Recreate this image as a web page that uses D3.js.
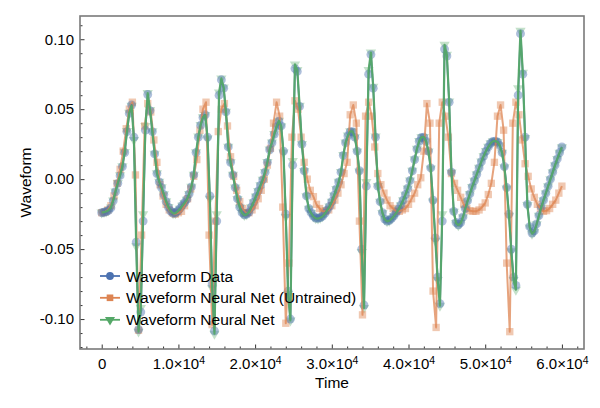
<!DOCTYPE html>
<html><head><meta charset="utf-8">
<script src="https://cdn.jsdelivr.net/npm/d3@7/dist/d3.min.js"></script>
<style>
body{margin:0;background:#fff}
text{font-family:"Liberation Sans",Arial,Helvetica,sans-serif;fill:#000}
</style>
</head><body>
<svg id="chart" width="600" height="408"></svg>
<script>
// ---------------- data ----------------
const seriesNames = ["Waveform Data", "Waveform Neural Net (Untrained)", "Waveform Neural Net"];
const seriesColors = ["#4C72B0", "#DD8452", "#55A868"];
const seriesMarkers = ["circle", "square", "triangle-down"];

// sample times of the data / trained network
const dataTimes = [0,300,600,900,1200,1500,1800,2100,2400,2700,
3000,3300,3600,3900,4200,4500,4800,5100,5400,5700,
6000,6300,6600,6900,7200,7500,7800,8100,8400,8700,
9000,9300,9600,9900,10200,10500,10800,11100,11400,11700,
12000,12300,12600,12900,13200,13500,13800,14100,14400,14700,
15000,15300,15600,15900,16200,16500,16800,17100,17400,17700,
18000,18300,18600,18900,19200,19500,19800,20100,20400,20700,
21000,21300,21600,21900,22200,22500,22800,23100,23400,23700,
24000,24300,24600,24900,25200,25500,25800,26100,26400,26700,
27000,27300,27600,27900,28200,28500,28800,29100,29400,29700,
30000,30300,30600,30900,31200,31500,31800,32100,32400,32700,
33000,33300,33600,33900,34200,34500,34800,35100,35400,35700,
36000,36300,36600,36900,37200,37500,37800,38100,38400,38700,
39000,39300,39600,39900,40200,40500,40800,41100,41400,41700,
42000,42300,42600,42900,43200,43500,43800,44100,44400,44700,
45000,45300,45600,45900,46200,46500,46800,47100,47400,47700,
48000,48300,48600,48900,49200,49500,49800,50100,50400,50700,
51000,51300,51600,51900,52200,52500,52800,53100,53400,53700,
54000,54300,54600,54900,55200,55500,55800,56100,56400,56700,
57000,57300,57600,57900,58200,58500,58800,59100,59400,59700,
60000];

// sample times of the untrained network
const untrainedTimes = [0,400,800,1200,1600,2000,2400,2800,3200,3600,4000,4400,4800,5200,5600,6000,6400,6800,7200,7600,
8000,8400,8800,9200,9600,10000,10400,10800,11200,11600,12000,12400,12800,13200,13600,14000,14400,14800,15200,15600,
16000,16400,16800,17200,17600,18000,18400,18800,19200,19600,20000,20400,20800,21200,21600,22000,22400,22800,23200,23600,
24000,24400,24800,25200,25600,26000,26400,26800,27200,27600,28000,28400,28800,29200,29600,30000,30400,30800,31200,31600,
32000,32400,32800,33200,33600,34000,34400,34800,35200,35600,36000,36400,36800,37200,37600,38000,38400,38800,39200,39600,
40000,40400,40800,41200,41600,42000,42400,42800,43200,43600,44000,44400,44800,45200,45600,46000,46400,46800,47200,47600,
48000,48400,48800,49200,49600,50000,50400,50800,51200,51600,52000,52400,52800,53200,53600,54000,54400,54800,55200,55600,
56000,56400,56800,57200,57600,58000,58400,58800,59200,59600,60000];

const waveformData = [-0.0240,-0.0237,-0.0232,-0.0224,-0.0205,-0.0155,-0.0090,-0.0030,0.0025,0.0090,
0.0190,0.0340,0.0470,0.0530,0.0300,-0.0450,-0.1075,-0.0950,-0.0300,0.0350,
0.0605,0.0490,0.0340,0.0180,0.0040,-0.0020,-0.0060,-0.0110,-0.0160,-0.0200,
-0.0228,-0.0243,-0.0242,-0.0228,-0.0210,-0.0188,-0.0168,-0.0145,-0.0105,-0.0055,
0.0030,0.0190,0.0300,0.0385,0.0440,0.0460,0.0300,-0.0120,-0.0750,-0.1085,
-0.0300,0.0600,0.0710,0.0650,0.0480,0.0230,0.0120,0.0030,-0.0060,-0.0140,
-0.0200,-0.0240,-0.0255,-0.0250,-0.0235,-0.0200,-0.0165,-0.0125,-0.0085,-0.0045,
-0.0005,0.0050,0.0120,0.0210,0.0260,0.0320,0.0375,0.0415,0.0380,0.0200,
-0.0250,-0.0800,-0.1000,0.0100,0.0790,0.0770,0.0520,0.0250,0.0060,-0.0120,
-0.0210,-0.0240,-0.0265,-0.0278,-0.0280,-0.0275,-0.0265,-0.0245,-0.0220,-0.0195,
-0.0160,-0.0115,-0.0070,-0.0020,0.0050,0.0170,0.0260,0.0310,0.0340,0.0340,
0.0300,0.0200,0.0060,-0.0500,-0.0900,-0.0050,0.0750,0.0890,0.0650,0.0300,
-0.0050,-0.0160,-0.0240,-0.0285,-0.0300,-0.0295,-0.0280,-0.0262,-0.0240,-0.0215,
-0.0185,-0.0150,-0.0110,-0.0065,-0.0010,0.0060,0.0140,0.0215,0.0270,0.0298,
0.0300,0.0270,0.0200,0.0080,-0.0150,-0.0420,-0.0700,-0.0890,-0.0300,0.0930,
0.0880,0.0550,0.0050,-0.0230,-0.0310,-0.0326,-0.0310,-0.0270,-0.0210,-0.0155,
-0.0105,-0.0055,-0.0010,0.0035,0.0080,0.0125,0.0165,0.0200,0.0230,0.0255,
0.0270,0.0272,0.0265,0.0240,0.0190,0.0090,-0.0060,-0.0250,-0.0500,-0.0700,
-0.0760,0.0600,0.1040,0.0750,0.0300,-0.0180,-0.0340,-0.0385,-0.0370,-0.0320,
-0.0260,-0.0200,-0.0150,-0.0100,-0.0050,0.0000,0.0050,0.0100,0.0145,0.0190,
0.0230];

const trainedData = [-0.0238,-0.0236,-0.0231,-0.0222,-0.0203,-0.0152,-0.0088,-0.0028,0.0028,0.0093,
0.0195,0.0345,0.0475,0.0525,0.0280,-0.0480,-0.1090,-0.0920,-0.0250,0.0380,
0.0615,0.0495,0.0342,0.0182,0.0042,-0.0018,-0.0058,-0.0108,-0.0158,-0.0199,
-0.0228,-0.0244,-0.0244,-0.0230,-0.0212,-0.0190,-0.0170,-0.0147,-0.0106,-0.0054,
0.0032,0.0192,0.0305,0.0388,0.0442,0.0458,0.0290,-0.0140,-0.0780,-0.1105,
-0.0250,0.0620,0.0720,0.0655,0.0482,0.0232,0.0121,0.0031,-0.0059,-0.0141,
-0.0202,-0.0242,-0.0257,-0.0252,-0.0236,-0.0201,-0.0165,-0.0124,-0.0084,-0.0044,
-0.0004,0.0052,0.0122,0.0212,0.0262,0.0322,0.0377,0.0418,0.0378,0.0190,
-0.0270,-0.0820,-0.1010,0.0130,0.0820,0.0780,0.0525,0.0252,0.0058,-0.0122,
-0.0212,-0.0242,-0.0267,-0.0280,-0.0282,-0.0276,-0.0266,-0.0246,-0.0221,-0.0196,
-0.0161,-0.0116,-0.0070,-0.0019,0.0052,0.0172,0.0262,0.0312,0.0342,0.0341,
0.0300,0.0198,0.0055,-0.0520,-0.0920,-0.0020,0.0780,0.0905,0.0660,0.0305,
-0.0048,-0.0162,-0.0242,-0.0287,-0.0302,-0.0297,-0.0282,-0.0263,-0.0241,-0.0216,
-0.0186,-0.0151,-0.0111,-0.0066,-0.0010,0.0061,0.0142,0.0217,0.0272,0.0300,
0.0301,0.0270,0.0198,0.0076,-0.0160,-0.0440,-0.0720,-0.0905,-0.0250,0.0960,
0.0890,0.0555,0.0048,-0.0233,-0.0313,-0.0330,-0.0314,-0.0272,-0.0212,-0.0157,
-0.0106,-0.0056,-0.0011,0.0035,0.0081,0.0126,0.0166,0.0201,0.0231,0.0256,
0.0271,0.0273,0.0266,0.0240,0.0188,0.0086,-0.0066,-0.0262,-0.0515,-0.0720,
-0.0790,0.0650,0.1060,0.0760,0.0295,-0.0185,-0.0345,-0.0390,-0.0375,-0.0323,
-0.0262,-0.0202,-0.0151,-0.0101,-0.0051,-0.0001,0.0049,0.0099,0.0145,0.0189,
0.0228];

const untrainedData = [-0.0240,-0.0235,-0.0220,-0.0190,-0.0120,-0.0030,0.0070,0.0200,0.0360,0.0500,
0.0550,0.0030,-0.1080,-0.0400,0.0380,0.0540,0.0480,0.0280,0.0120,-0.0040,
-0.0120,-0.0180,-0.0220,-0.0240,-0.0250,-0.0240,-0.0230,-0.0190,-0.0140,-0.0070,
0.0020,0.0140,0.0350,0.0500,0.0550,-0.0400,-0.1040,-0.0300,0.0340,0.0500,
0.0540,0.0380,0.0160,0.0020,-0.0080,-0.0160,-0.0210,-0.0240,-0.0240,-0.0220,
-0.0190,-0.0140,-0.0080,0.0000,0.0100,0.0220,0.0400,0.0550,0.0450,-0.0200,
-0.1030,-0.0600,0.0300,0.0560,0.0500,0.0300,0.0120,0.0000,-0.0080,-0.0125,
-0.0180,-0.0210,-0.0230,-0.0230,-0.0220,-0.0190,-0.0150,-0.0100,-0.0040,0.0040,
0.0120,0.0460,0.0530,0.0400,-0.0300,-0.0970,0.0450,0.0550,0.0450,0.0230,
0.0040,-0.0040,-0.0100,-0.0150,-0.0190,-0.0210,-0.0230,-0.0230,-0.0220,-0.0210,
-0.0180,-0.0140,-0.0100,-0.0040,0.0010,0.0200,0.0540,0.0400,-0.0800,-0.1060,
0.0400,0.0550,0.0450,0.0300,0.0040,-0.0030,-0.0080,-0.0130,-0.0180,-0.0210,
-0.0225,-0.0230,-0.0230,-0.0220,-0.0200,-0.0170,-0.0110,-0.0030,0.0120,0.0450,
0.0530,0.0350,-0.0600,-0.1090,0.0400,0.0550,0.0460,0.0280,0.0110,0.0020,
-0.0070,-0.0130,-0.0180,-0.0210,-0.0230,-0.0225,-0.0210,-0.0180,-0.0150,-0.0100,
-0.0050];

const xMajorTicks = [0, 10000, 20000, 30000, 40000, 50000, 60000];
const xTickMantissas = ["0", "1.0", "2.0", "3.0", "4.0", "5.0", "6.0"];
const xMinorTicks = [-2000,2000,4000,6000,8000,12000,14000,16000,18000,22000,24000,26000,28000,32000,34000,36000,38000,42000,44000,46000,48000,52000,54000,56000,58000,62000];
const yMajorTicks = [-0.10, -0.05, 0.00, 0.05, 0.10];
const yTickLabels = ["-0.10", "-0.05", "0.00", "0.05", "0.10"];
const yMinorTicks = [-0.12,-0.11,-0.09,-0.08,-0.07,-0.06,-0.04,-0.03,-0.02,-0.01,0.01,0.02,0.03,0.04,0.06,0.07,0.08,0.09,0.11];

// ---------------- layout ----------------
const L = 80, R = 584, T = 16, B = 349;
const svg = d3.select("#chart");
const x = d3.scaleLinear().domain([-2830, 62880]).range([L, R]);
const y = d3.scaleLinear().domain([-0.1214, 0.1166]).range([B, T]);
const axisColor = "#7a7a7a";
const tickFont = 15, labelFont = 15.5;

// axes (ticks inside)
const gx = svg.append("g").attr("transform", `translate(0,${B})`)
  .call(d3.axisBottom(x).tickValues(xMajorTicks).tickSize(-4.5).tickPadding(9)
    .tickFormat(() => ""));
gx.selectAll(".tick text").each(function(d, i) {
  const t = d3.select(this).attr("font-size", tickFont).attr("font-family", null);
  if (d === 0) { t.text(xTickMantissas[i]); return; }
  t.text(xTickMantissas[i] + "×10");
  t.append("tspan").attr("dy", "-0.42em").attr("font-size", tickFont * 0.7).text("4");
});
svg.append("g").attr("transform", `translate(0,${B})`)
  .call(d3.axisBottom(x).tickValues(xMinorTicks).tickSize(-2.5).tickFormat(() => ""));

const gy = svg.append("g").attr("transform", `translate(${L},0)`)
  .call(d3.axisLeft(y).tickValues(yMajorTicks).tickSize(-4.5).tickPadding(6)
    .tickFormat((d, i) => yTickLabels[i]));
gy.selectAll(".tick text").attr("font-size", tickFont).attr("font-family", null);
svg.append("g").attr("transform", `translate(${L},0)`)
  .call(d3.axisLeft(y).tickValues(yMinorTicks).tickSize(-2.5).tickFormat(() => ""));

svg.selectAll(".domain").remove();
svg.selectAll(".tick line").attr("stroke", "#333").attr("stroke-width", 1);

// axis labels
svg.append("text").attr("x", (L + R) / 2).attr("y", 388).attr("text-anchor", "middle")
  .attr("font-size", labelFont).text("Time");
svg.append("text").attr("transform", `translate(31,${(T + B) / 2}) rotate(-90)`)
  .attr("text-anchor", "middle").attr("font-size", labelFont).text("Waveform");

// ---------------- series ----------------
const allSeries = [
  {t: dataTimes, v: waveformData},
  {t: untrainedTimes, v: untrainedData},
  {t: dataTimes, v: trainedData}
];
const sym = {
  "circle": d3.symbol().type(d3.symbolCircle).size(62),
  "square": d3.symbol().type(d3.symbolSquare).size(54),
  "triangle-down": d3.symbol().type(d3.symbolTriangle).size(46)
};
const plot = svg.append("g");
const markerOpacity = [0.45, 0.45, 0.35];
const lineWidth = [1.8, 2.0, 2.2];
const lineOpacity = [0.9, 0.75, 0.95];
// markers (trained underneath, data circles on top), then lines
[2, 1, 0].forEach(s => {
  const S = allSeries[s];
  const rot = seriesMarkers[s] === "triangle-down" ? " rotate(180)" : "";
  plot.append("g").selectAll("path").data(S.v).join("path")
    .attr("d", sym[seriesMarkers[s]]())
    .attr("transform", (d, i) => `translate(${x(S.t[i])},${y(d)})${rot}`)
    .attr("fill", seriesColors[s]).attr("fill-opacity", markerOpacity[s]);
});
[1, 0, 2].forEach(s => {
  const S = allSeries[s];
  const line = d3.line().x((d, i) => x(S.t[i])).y(d => y(d));
  plot.append("path").datum(S.v).attr("d", line).attr("fill", "none")
    .attr("stroke", seriesColors[s]).attr("stroke-width", lineWidth[s])
    .attr("stroke-opacity", lineOpacity[s]).attr("stroke-linejoin", "round");
});

// frame
svg.append("rect").attr("x", L).attr("y", T).attr("width", R - L).attr("height", B - T)
  .attr("fill", "none").attr("stroke", axisColor).attr("stroke-width", 1.6);

// ---------------- legend ----------------
const legRows = [276, 297.8, 319.8];
const legSym = {
  "circle": d3.symbol().type(d3.symbolCircle).size(48),
  "square": d3.symbol().type(d3.symbolSquare).size(44),
  "triangle-down": d3.symbol().type(d3.symbolTriangle).size(44)
};
const leg = svg.append("g");
seriesNames.forEach((name, s) => {
  const yy = legRows[s];
  leg.append("line").attr("x1", 100).attr("x2", 120).attr("y1", yy).attr("y2", yy)
    .attr("stroke", seriesColors[s]).attr("stroke-width", 1.8);
  const rot = seriesMarkers[s] === "triangle-down" ? " rotate(180)" : "";
  leg.append("path").attr("d", legSym[seriesMarkers[s]]())
    .attr("transform", `translate(110,${yy})${rot}`).attr("fill", seriesColors[s]);
  leg.append("text").attr("x", 126).attr("y", yy).attr("dy", "0.36em")
    .attr("font-size", labelFont).text(name);
});
</script>
</body></html>
